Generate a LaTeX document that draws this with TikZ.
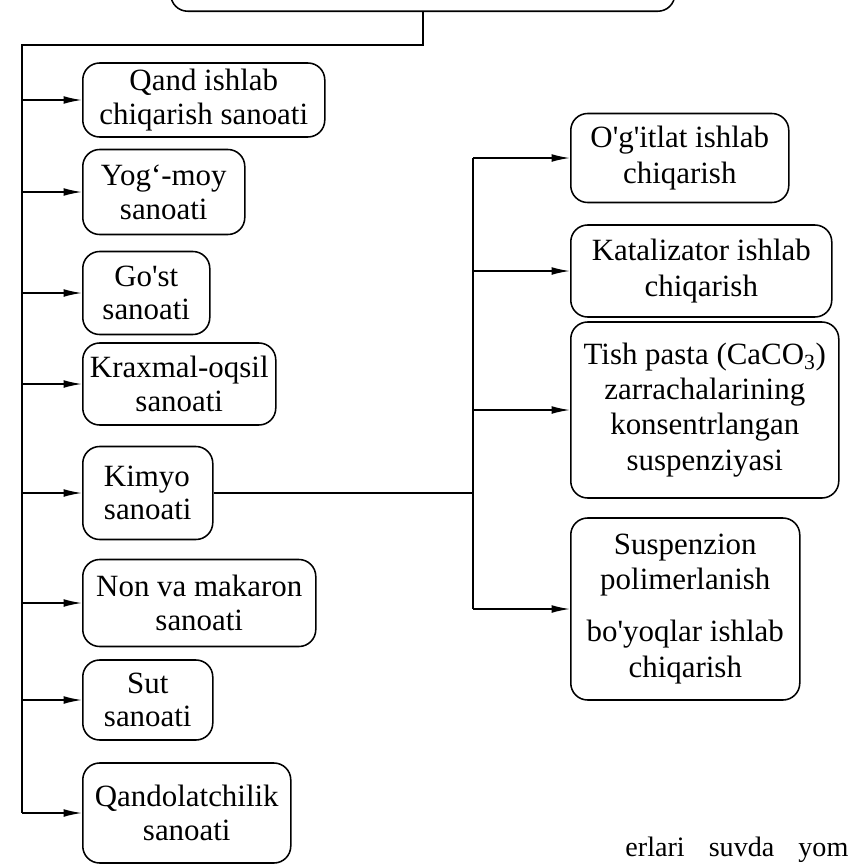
\documentclass[tikz,border=0pt]{standalone}
\usepackage{fontspec}
\setmainfont{Liberation Serif}
\usetikzlibrary{arrows.meta}

\begin{document}
\begin{tikzpicture}[
    >={Latex[length=13pt,width=5.5pt]},
    font=\fontsize{22}{24}\selectfont,
    line width=1.1pt,
    box/.style={draw, rectangle, rounded corners=12pt, align=center, inner xsep=3pt, inner ysep=2pt},
    lbox/.style={box, anchor=west},
    rbox/.style={box, anchor=west, font=\fontsize{22}{25}\selectfont}
]

    \useasboundingbox (0, 0) rectangle (21.225, -21.65);

    \node [box, anchor=south west, minimum width=12.6cm, minimum height=3cm] (T) at (4.25, -0.3) {};

    \node [lbox, minimum width=6.05cm, minimum height=1.85cm] (A1) at (2.05, -2.5) {Qand ishlab\\chiqarish sanoati};
    \node [lbox, minimum width=4.05cm, minimum height=2.125cm] (A2) at (2.05, -4.8) {Yog`-moy\\sanoati};
    \node [lbox, minimum width=3.175cm, minimum height=2.075cm] (A3) at (2.05, -7.325) {Go\textquotesingle st\\sanoati};
    \node [lbox, minimum width=4.825cm, minimum height=2.05cm] (A4) at (2.05, -9.6) {Kraxmal-oqsil\\sanoati};
    \node [lbox, align=left, minimum width=3.25cm, minimum height=2.325cm] (A5) at (2.05, -12.325) {Kimyo\\sanoati};
    \node [lbox, minimum width=5.825cm, minimum height=2.175cm] (A6) at (2.05, -15.075) {Non va makaron\\sanoati};
    \node [lbox, minimum width=3.25cm, minimum height=2.0cm] (A7) at (2.05, -17.5) {Sut\\sanoati};
    \node [lbox, minimum width=5.2cm, minimum height=2.5cm] (A8) at (2.05, -20.325) {Qandolatchilik\\sanoati};

    \node [rbox, minimum width=5.45cm, minimum height=2.225cm] (B1) at (14.25, -3.95) {O\textquotesingle g\textquotesingle itlat ishlab\\chiqarish};
    \node [rbox, minimum width=6.525cm, minimum height=2.3cm] (B2) at (14.25, -6.775) {Katalizator ishlab\\chiqarish};
    \node [rbox, minimum width=6.7cm, minimum height=4.4cm] (B3) at (14.25, -10.25) {Tish pasta (CaCO\textsubscript{3})\\zarrachalarining\\konsentrlangan\\suspenziyasi};
    \node [rbox, minimum width=5.725cm, minimum height=4.55cm] (B4) at (14.25, -15.225) {Suspenzion\\polimerlanish\\[12pt]bo\textquotesingle yoqlar ishlab\\chiqarish};

    \node [anchor=base west, font=\fontsize{20}{24}\selectfont] (P) at (15.5, -21.42) {erlari\hspace{0.6cm}suvda\hspace{0.6cm}yom};

    \coordinate (L) at (0.55, -1.125);
    \coordinate (R) at (11.83, -3.95);

    \draw (T.south) |- (L) -- (L |- A8.west);
    \draw [->] (L |- A1.west) -- (A1.west);
    \draw [->] (L |- A2.west) -- (A2.west);
    \draw [->] (L |- A3.west) -- (A3.west);
    \draw [->] (L |- A4.west) -- (A4.west);
    \draw [->] (L |- A5.west) -- (A5.west);
    \draw [->] (L |- A6.west) -- (A6.west);
    \draw [->] (L |- A7.west) -- (A7.west);
    \draw [->] (L |- A8.west) -- (A8.west);

    \draw (A5.east) -- (A5.east -| R);
    \draw (R |- B1.west) -- (R |- B4.west);
    \draw [->] (R |- B1.west) -- (B1.west);
    \draw [->] (R |- B2.west) -- (B2.west);
    \draw [->] (R |- B3.west) -- (B3.west);
    \draw [->] (R |- B4.west) -- (B4.west);

\end{tikzpicture}
\end{document}
